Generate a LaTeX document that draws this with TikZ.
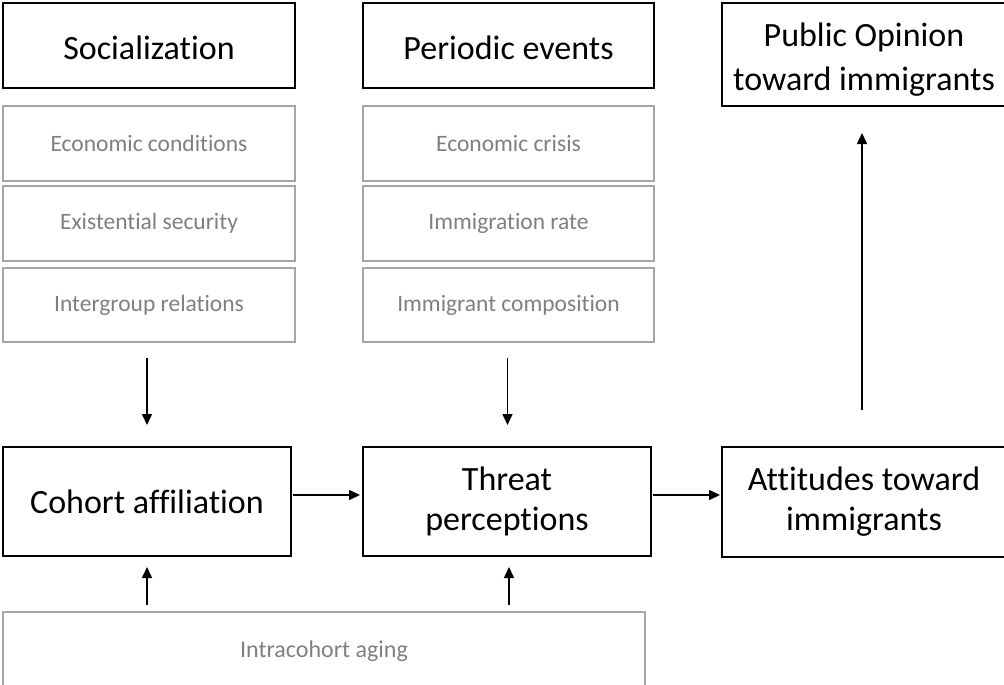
\documentclass[tikz,border=0pt]{standalone}
\usepackage{fontspec}
\setmainfont{Carlito}[Ligatures=NoCommon]
\usetikzlibrary{arrows.meta,calc}
\definecolor{gtext}{HTML}{7F7F7F}
\definecolor{gline}{HTML}{A6A6A6}
\begin{document}
\begin{tikzpicture}[x=1pt,y=-1pt,
  bigbox/.style={draw=black,line width=1.4pt,inner sep=0pt,outer sep=0pt,align=center,font=\fontsize{34}{40}\selectfont,text=black},
  subbox/.style={draw=gline,line width=1.3pt,inner sep=0pt,outer sep=0pt,align=center,font=\fontsize{23.5}{28}\selectfont,text=gtext},
  lbl/.style={inner sep=0pt,align=center,font=\fontsize{34}{40}\selectfont,text=black},
  arr/.style={line width=1.5pt,-{Triangle[length=11pt,width=10pt]}}]
\useasboundingbox (0,0) rectangle (1004,685);
% Socialization column
\node[bigbox,minimum width=292pt,minimum height=85pt] (soc) at (149,45.5) {};
\node[lbl] (socl) at (149,48) {Socialization};
\node[subbox,minimum width=292pt,minimum height=75pt] (ec) at (149,143.5) {Economic conditions};
\node[subbox,minimum width=292pt,minimum height=75pt] (es) at (149,223.5) {Existential security};
\node[subbox,minimum width=292pt,minimum height=74pt] (ig) at (149,305) {Intergroup relations};
% Periodic events column
\node[bigbox,minimum width=291pt,minimum height=85pt] (per) at (508.5,45.5) {};
\node[lbl] (perl) at (508.5,48) {Periodic events};
\node[subbox,minimum width=291pt,minimum height=75pt] (ecr) at (508.5,143.5) {Economic crisis};
\node[subbox,minimum width=291pt,minimum height=75pt] (imr) at (508.5,223.5) {Immigration rate};
\node[subbox,minimum width=291pt,minimum height=74pt] (imc) at (508.5,305) {Immigrant composition};
% Right column
\node[bigbox,minimum width=284pt,minimum height=103pt] (pub) at (864,54.5) {};
\node[lbl,font=\fontsize{34}{44}\selectfont] (publ) at (864,60) {Public Opinion\\toward immigrants};
\node[bigbox,minimum width=284pt,minimum height=110pt] (att) at (864,502) {Attitudes toward\\immigrants};
% Middle row
\node[bigbox,minimum width=288pt,minimum height=109pt] (coh) at (147,501.5) {Cohort affiliation};
\node[bigbox,minimum width=288pt,minimum height=109pt] (thr) at (507,501.5) {Threat\\perceptions};
% Bottom
\node[subbox,minimum width=642pt,minimum height=78pt,font=\fontsize{24}{28}\selectfont] (intra) at (324,651) {Intracohort aging};
% Arrows
\draw[arr,shorten <=16pt,shorten >=22pt] (coh.north |- ig.south) -- (coh.north);
\draw[arr,shorten <=16pt,shorten >=22pt] ([xshift=0.5pt]thr.north |- imc.south) -- ([xshift=0.5pt]thr.north);
\draw[arr,shorten <=2pt,shorten >=3pt] ([yshift=6.5pt]coh.east) -- ([yshift=6.5pt]thr.west);
\draw[arr,shorten <=2pt,shorten >=2pt] ([yshift=6.5pt]thr.east) -- ([yshift=6.5pt]thr.east -| att.west);
\draw[arr,shorten <=37pt,shorten >=27pt] ([xshift=-2pt]att.north) -- ([xshift=-2pt]att.north |- pub.south);
\draw[arr,shorten <=7pt,shorten >=11pt] (coh.south |- intra.north) -- (coh.south);
\draw[arr,shorten <=7pt,shorten >=11pt] ([xshift=2pt]thr.south |- intra.north) -- ([xshift=2pt]thr.south);
\end{tikzpicture}
\end{document}
